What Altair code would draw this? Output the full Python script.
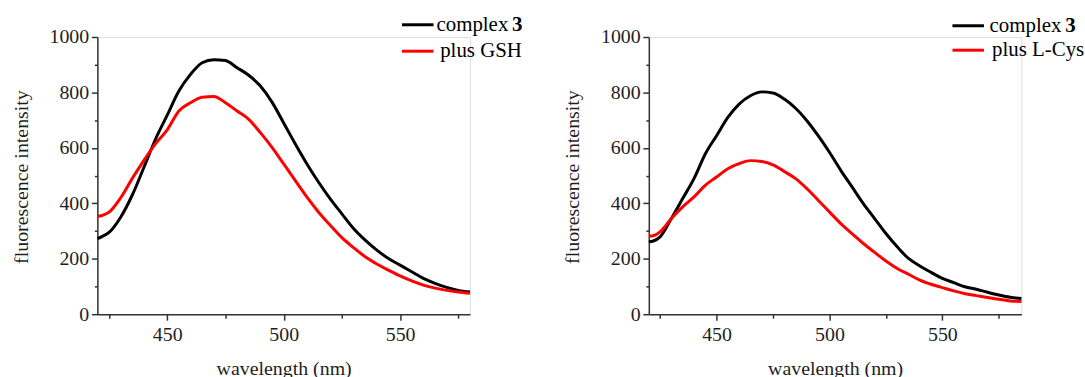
import altair as alt
import pandas as pd

# ---------------- data ----------------
wl_gsh = [420, 422, 425, 430, 435, 440, 445, 450, 455, 460, 465, 470, 475, 480, 485,
          490, 495, 500, 505, 510, 515, 520, 525, 530, 535, 540, 545, 550, 555, 560,
          565, 570, 575, 580]
complex_gsh = [273, 280, 295, 350, 430, 530, 632, 718, 805, 865, 907, 918, 915, 889, 862,
               823, 765, 690, 614, 542, 476, 416, 362, 309, 267, 231, 201, 177, 153, 129,
               111, 97, 86, 80]
plus_gsh = [353, 356, 368, 420, 490, 555, 615, 665, 733, 763, 783, 785, 763, 733, 703,
            655, 602, 542, 482, 422, 368, 321, 276, 240, 207, 181, 159, 138, 120, 105,
            94, 86, 80, 75]

wl_cys = [420, 422, 425, 430, 435, 440, 445, 450, 455, 460, 465, 470, 475, 480, 485,
          490, 495, 500, 505, 510, 515, 520, 525, 530, 535, 540, 545, 550, 555, 560,
          565, 570, 575, 580, 585]
complex_cys = [261, 264, 279, 345, 417, 489, 578, 644, 710, 758, 788, 802, 798, 776, 743,
               698, 644, 584, 519, 459, 399, 345, 291, 243, 201, 174, 151, 129, 114, 99,
               90, 79, 69, 61, 57]
plus_cys = [281, 283, 297, 345, 387, 423, 465, 495, 525, 543, 554, 551, 539, 515, 489,
            453, 411, 369, 327, 291, 255, 223, 192, 165, 144, 123, 108, 96, 84, 74,
            67, 60, 54, 48, 46]

x_major = [450, 500, 550]
x_minor = [425, 475, 525, 575]
y_major = [0, 200, 400, 600, 800, 1000]
y_minor = [100, 300, 500, 700, 900]

x_title = "wavelength (nm)"
y_title = "fluorescence intensity"
legend_first = ["complex", "3"]
legend_second_left = "plus GSH"
legend_second_right = "plus L-Cys"
colors = ["#000000", "#ff0000"]

FONT = "Liberation Serif"
TXT = "#1e1e1e"
AX = "#333333"
W = 375
H = 279


def panel(wl, s1, s2, second_label, xmax, leg):
    d1 = pd.DataFrame({"wl": wl, "v": s1})
    d2 = pd.DataFrame({"wl": wl, "v": s2})
    xs = alt.Scale(domain=[420, xmax], nice=False, zero=False)
    ys = alt.Scale(domain=[0, 1000], nice=False)
    common = dict(grid=False, domainColor=AX, domainWidth=1.5, tickColor=AX, tickWidth=1.5,
                  labelFont=FONT, labelFontSize=20, labelColor=TXT, format="d",
                  titleFont=FONT, titleFontSize=20, titleFontWeight="normal", titleColor=TXT)
    x_ax = alt.Axis(orient="bottom", values=x_major, tickSize=6, labelPadding=4.5,
                    title=x_title, titleX=W / 2, titleY=54.7, titleAlign="center",
                    titleBaseline="middle", labelFlush=False, labelOverlap=False, **common)
    y_ax = alt.Axis(orient="left", values=y_major, tickSize=6, labelPadding=2.7,
                    title=y_title, titleAngle=270, titleX=-76.7, titleY=H / 2 + 1,
                    titleAlign="center", titleBaseline="middle", labelOverlap=False, **common)
    x_ax2 = alt.Axis(orient="bottom", values=x_minor, tickSize=4, labels=False, domain=False,
                     title=None, grid=False, tickColor=AX, tickWidth=1.5)
    y_ax2 = alt.Axis(orient="left", values=y_minor, tickSize=3, labels=False, domain=False,
                     title=None, grid=False, tickColor=AX, tickWidth=1.5)

    l1 = alt.Chart(d1).mark_line(color=colors[0], strokeWidth=3, interpolate="monotone").encode(
        x=alt.X("wl:Q", scale=xs, axis=x_ax),
        y=alt.Y("v:Q", scale=ys, axis=y_ax),
    )
    l2 = alt.Chart(d2).mark_line(color=colors[1], strokeWidth=3, interpolate="monotone").encode(
        x=alt.X("wl:Q", scale=xs, axis=x_ax2),
        y=alt.Y("v:Q", scale=ys, axis=y_ax2),
    )

    one = pd.DataFrame({"t": [0]})
    lx0, lx1, ly0, ly1, tx0, tx3, tx1 = leg
    layers = [l1, l2]
    for c, yy in zip(colors, [ly0, ly1]):
        layers.append(alt.Chart(one).mark_rule(color=c, strokeWidth=3).encode(
            x=alt.value(lx0), x2=alt.value(lx1), y=alt.value(yy)))
    texts = [(legend_first[0], tx0, ly0, "normal"), (legend_first[1], tx3, ly0, "bold"),
             (second_label, tx1, ly1, "normal")]
    for t, xx, yy, fw in texts:
        layers.append(alt.Chart(pd.DataFrame({"t": [t]})).mark_text(
            font=FONT, fontSize=21, fontWeight=fw, color="#000000", align="left",
            baseline="middle").encode(x=alt.value(xx), y=alt.value(yy), text="t:N"))
    return alt.layer(*layers).resolve_axis(x="independent", y="independent").properties(
        width=W, height=H)


left = panel(wl_gsh, complex_gsh, plus_gsh, legend_second_left, 580,
             (306.6, 338.3, -12.3, 14.3, 341.3, 417.3, 345.0))
right = panel(wl_cys, complex_cys, plus_cys, legend_second_right, 585,
              (305.6, 337.3, -11.3, 13.3, 343.0, 419.0, 345.5))

chart = alt.hconcat(left, right, spacing=180, bounds="flush").properties(
    padding={"left": 10, "top": 12, "right": 0, "bottom": 0}
).configure_view(stroke=None).configure(background="white").configure_axis(
    labelFont=FONT, labelFontSize=20, labelColor=TXT, titleFont=FONT, titleFontSize=20
)

chart.save("out.html", embed_options={"renderer": "svg", "actions": False})
